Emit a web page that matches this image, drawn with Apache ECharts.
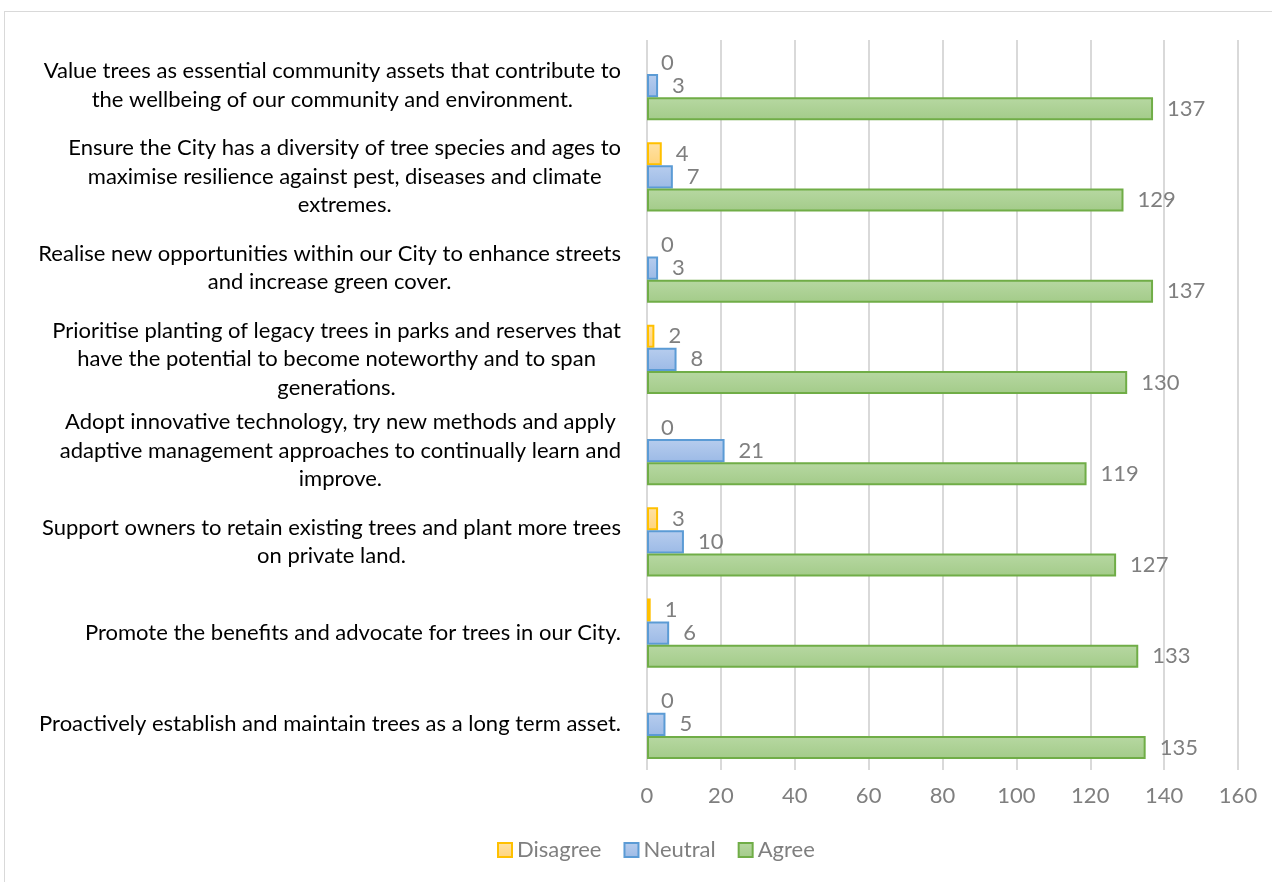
<!DOCTYPE html>
<html>
<head>
<meta charset="utf-8">
<script src="https://cdn.jsdelivr.net/npm/echarts@6/dist/echarts.min.js"></script>
<style>
  html, body { margin: 0; padding: 0; background: #fff; }
  #frame { position: absolute; left: 4px; top: 11px; width: 1300px; height: 880px;
           border: 1px solid #d9d9d9; box-sizing: border-box; }
  #chart { position: absolute; left: 0; top: 0; width: 1272px; height: 882px; }
</style>
</head>
<body>
<div id="frame"></div>
<div id="chart"></div>
<script>
// Survey statements, listed top to bottom
const statements = [
  ['Value trees as essential community assets that contribute to', 'the wellbeing of our community and environment.'],
  ['Ensure the City has a diversity of tree species and ages to', 'maximise resilience against pest, diseases and climate', 'extremes.'],
  ['Realise new opportunities within our City to enhance streets', 'and increase green cover.'],
  ['Prioritise planting of legacy trees in parks and reserves that', 'have the potential to become noteworthy and to span', 'generations.'],
  ['Adopt innovative technology, try new methods and apply', 'adaptive management approaches to continually learn and', 'improve.'],
  ['Support owners to retain existing trees and plant more trees', 'on private land.'],
  ['Promote the benefits and advocate for trees in our City.'],
  ['Proactively establish and maintain trees as a long term asset.']
];
const disagree = [0, 4, 0, 2, 0, 3, 1, 0];
const neutral  = [3, 7, 3, 8, 21, 10, 6, 5];
const agree    = [137, 129, 137, 130, 119, 127, 133, 135];
const xTicks   = [0, 20, 40, 60, 80, 100, 120, 140, 160];

const FONT = 'Lato, "Open Sans", sans-serif';
const FS = 22;
const categories = statements.map(lines => lines.join('\n'));

function grad(top, bottom) {
  return new echarts.graphic.LinearGradient(0, 0, 0, 1, [
    { offset: 0, color: top }, { offset: 1, color: bottom }
  ]);
}

function makeSeries(name, values, fillTop, fillBottom, border) {
  return {
    name: name,
    type: 'bar',
    barGap: '0%',
    barCategoryGap: '24%',
    itemStyle: { color: grad(fillTop, fillBottom), borderColor: border, borderWidth: 2 },
    label: {
      show: true, position: 'right', distance: 14,
      color: '#7f7f7f', fontFamily: FONT, fontSize: FS
    },
    // zero-length bars get no outline so nothing is drawn for them
    data: values.map(v => v === 0 ? { value: v, itemStyle: { borderWidth: 0 } } : v)
  };
}

const chart = echarts.init(document.getElementById('chart'), null, { renderer: 'canvas' });
chart.setOption({
  animation: false,
  textStyle: { fontFamily: FONT },
  grid: { left: 647, right: 34, top: 40, bottom: 112 },
  legend: {
    bottom: 16,
    left: 492,
    icon: 'rect',
    itemWidth: 14,
    itemHeight: 14,
    itemGap: 22,
    textStyle: { color: '#7f7f7f', fontSize: FS, fontFamily: FONT },
    data: ['Disagree', 'Neutral', 'Agree']
  },
  xAxis: {
    type: 'value',
    min: xTicks[0],
    max: xTicks[xTicks.length - 1],
    interval: xTicks[1] - xTicks[0],
    axisLine: { show: false },
    axisTick: { show: false },
    splitLine: { lineStyle: { color: '#d9d9d9', width: 2 } },
    axisLabel: { color: '#7f7f7f', fontSize: FS, fontFamily: FONT, margin: 15 }
  },
  yAxis: {
    type: 'category',
    inverse: true,
    data: categories,
    axisLine: { show: false },
    axisTick: { show: false },
    axisLabel: {
      margin: 26,
      color: '#000',
      fontFamily: FONT,
      fontSize: FS,
      lineHeight: 28.5,
      formatter: v => v.split('\n').map(l => '{c|' + l + '}').join('\n'),
      rich: { c: { align: 'center', color: '#000', fontFamily: FONT, fontSize: FS, lineHeight: 28.5 } }
    }
  },
  series: [
    makeSeries('Disagree', disagree, '#ffe2a6', '#ffd47c', '#ffc000'),
    makeSeries('Neutral', neutral, '#b7cdee', '#9cbae6', '#5b9bd5'),
    makeSeries('Agree', agree, '#b7d8a2', '#a3cb89', '#70ad47')
  ]
});
</script>
</body>
</html>
